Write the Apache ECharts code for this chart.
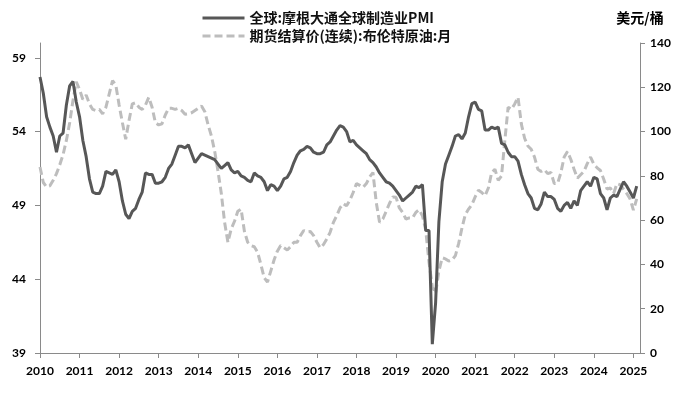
<!DOCTYPE html>
<html>
<head>
<meta charset="utf-8">
<script src="https://cdn.jsdelivr.net/npm/echarts@6/dist/echarts.min.js"></script>
<style>
html,body{margin:0;padding:0;background:#fff;}
#chart{width:693px;height:393px;}
</style>
</head>
<body>
<div id="chart"></div>
<script>
// Series names
var seriesNames = ['全球:摩根大通全球制造业PMI', '期货结算价(连续):布伦特原油:月'];
// X tick labels (one per 12 monthly points)
var yearLabels = ['2010','2011','2012','2013','2014','2015','2016','2017','2018','2019','2020','2021','2022','2023','2024','2025'];
// Axis tick values
var leftTicks = [39, 44, 49, 54, 59];
var rightTicks = [0, 20, 40, 60, 80, 100, 120, 140];

// JPMorgan Global Manufacturing PMI, monthly
var pmi = [
 57.7, 56.6, 55.0, 54.3, 53.7, 52.6, 53.7, 53.9, 55.8, 57.1, 57.4, 56.0,
 55.0, 53.4, 52.3, 50.8, 49.9, 49.8, 49.8, 50.3, 51.3, 51.2, 51.1, 51.4,
 50.6, 49.3, 48.4, 48.1, 48.6, 48.8, 49.4, 49.9, 51.2, 51.1, 51.1, 50.5,
 50.5, 50.6, 50.9, 51.5, 51.8, 52.4, 53.0, 53.0, 52.9, 53.1, 52.5, 51.9,
 52.2, 52.5, 52.4, 52.3, 52.2, 52.1, 51.8, 51.5, 51.7, 51.9, 51.4, 51.2,
 51.3, 51.0, 50.9, 50.7, 50.6, 51.2, 51.0, 50.9, 50.6, 50.0, 50.4, 50.3,
 50.0, 50.3, 50.8, 50.9, 51.3, 51.9, 52.4, 52.7, 52.8, 53.0, 52.9, 52.6,
 52.5, 52.5, 52.6, 53.1, 53.3, 53.7, 54.1, 54.4, 54.3, 54.0, 53.3, 53.4,
 53.1, 52.9, 52.7, 52.5, 52.1, 51.9, 51.6, 51.2, 50.9, 50.6, 50.5, 50.3,
 50.0, 49.7, 49.3, 49.5, 49.7, 49.9, 50.3, 50.2, 50.4, 47.3, 47.3, 39.6,
 42.4, 47.9, 50.6, 51.8, 52.4, 53.0, 53.7, 53.8, 53.5, 53.9, 55.0, 55.9,
 56.0, 55.5, 55.4, 54.1, 54.1, 54.3, 54.2, 54.3, 53.2, 53.1, 52.6, 52.3,
 52.3, 52.0, 51.1, 50.4, 49.8, 49.5, 48.8, 48.7, 49.1, 49.9, 49.6, 49.6,
 49.4, 48.8, 48.6, 49.0, 49.2, 48.8, 49.3, 49.0, 50.0, 50.3, 50.6, 50.3,
 50.9, 50.8, 49.8, 49.5, 48.7, 49.5, 49.7, 49.6, 50.1, 50.6, 50.3, 49.9,
 49.5, 50.3
];

// Brent crude continuous futures settlement, monthly (USD/bbl)
var brent = [
 84, 77, 75, 75.5, 78, 81, 85, 89.6, 96, 104, 114, 122.5,
 119, 114.5, 116.5, 112.5, 110, 109.5, 110, 108, 111, 117, 123, 121,
 112, 104, 96.5, 105, 112.5, 113, 111, 110, 112, 115.5, 111, 104,
 103, 103.5, 107.5, 110.5, 110.5, 110, 110.5, 109.5, 107.8, 108, 108.5, 109.5,
 110.5, 111.5, 109, 103, 98, 91, 82, 72, 59, 50, 56, 59.5,
 64, 65, 55, 50, 48.5, 48, 45.5, 40, 34, 32, 37, 42,
 46, 48.5, 47.5, 46.5, 48, 50, 50, 53, 55.3, 54.7, 54.9, 53,
 50, 47.5, 49, 51.5, 54.5, 59, 62, 65.5, 67.5, 66.5, 69, 72.5,
 76.5, 75.7, 74.8, 76.5, 79.5, 81.5, 68, 59, 60.5, 64, 67.5, 70.5,
 70.3, 65.5, 63.5, 60.5, 61, 61, 63.5, 64.7, 62, 55.5, 41, 30,
 27, 37, 43, 42.5, 41.5, 42, 44, 49.5, 56.5, 62.5, 65, 67,
 70.5, 73.5, 72.5, 71, 74.5, 81.5, 83, 78, 80, 96, 111, 110,
 112.5, 115.5, 103.5, 97, 93.5, 92, 88.5, 83, 82, 82.8, 81, 81.5,
 76.5, 76.5, 81.5, 88.5, 91, 87.5, 83, 79, 80.5, 82, 85.5, 88.5,
 85.3, 83.6, 82.4, 78.5, 74, 74.5, 72, 76.5, 76, 74, 72, 69.6,
 64.5, 69.6
];

var chart = echarts.init(document.getElementById('chart'), null, {renderer: 'canvas'});

var labelFont = {color: '#000', fontSize: 12, fontWeight: 'bold', fontFamily: 'Lato, "Liberation Sans", sans-serif'};
var axisLineStyle = {lineStyle: {color: '#8a8a8a', width: 1}};

function toPairs(arr) { return arr.map(function (v, i) { return [i, v]; }); }

var option = {
  animation: false,
  backgroundColor: '#fff',
  legend: {
    orient: 'vertical',
    left: 196,
    top: 6,
    itemWidth: 42,
    itemHeight: 14,
    itemGap: 4,
    itemStyle: {opacity: 0, borderWidth: 0},
    lineStyle: {width: 3},
    textStyle: {color: '#111', fontSize: 14, fontWeight: 'bold', fontFamily: '"Noto Sans CJK SC", sans-serif'},
    data: seriesNames
  },
  grid: {left: 40, right: 53, top: 43, bottom: 40, containLabel: false},
  xAxis: {
    type: 'value',
    min: 0,
    max: 182,
    interval: 12,
    splitLine: {show: false},
    axisLine: axisLineStyle,
    axisTick: {show: true, length: 5, lineStyle: {color: '#8a8a8a'}},
    axisLabel: Object.assign({
      margin: 12,
      showMaxLabel: false,
      formatter: function (v) {
        var k = Math.round(v / 12);
        return (v % 12 === 0 && yearLabels[k]) ? yearLabels[k] : '';
      }
    }, labelFont)
  },
  yAxis: [
    {
      type: 'value',
      min: leftTicks[0],
      max: 60,
      interval: leftTicks[1] - leftTicks[0],
      position: 'left',
      splitLine: {show: false},
      axisLine: Object.assign({show: true}, axisLineStyle),
      axisTick: {show: true, length: 5, lineStyle: {color: '#8a8a8a'}},
      axisLabel: Object.assign({margin: 14, showMaxLabel: false}, labelFont)
    },
    {
      type: 'value',
      min: rightTicks[0],
      max: rightTicks[rightTicks.length - 1],
      interval: rightTicks[1] - rightTicks[0],
      position: 'right',
      name: '美元/桶',
      nameLocation: 'end',
      nameGap: 18,
      nameTextStyle: {color: '#000', fontSize: 14, fontWeight: 'bold', fontFamily: '"Noto Sans CJK SC", sans-serif', align: 'center'},
      splitLine: {show: false},
      axisLine: Object.assign({show: true}, axisLineStyle),
      axisTick: {show: true, length: 5, lineStyle: {color: '#8a8a8a'}},
      axisLabel: Object.assign({margin: 10}, labelFont)
    }
  ],
  series: [
    {
      name: seriesNames[1],
      type: 'line',
      yAxisIndex: 1,
      data: toPairs(brent),
      symbol: 'none',
      z: 2,
      lineStyle: {color: '#bdbdbd', width: 3, type: [8, 4]},
      itemStyle: {color: '#bdbdbd'}
    },
    {
      name: seriesNames[0],
      type: 'line',
      yAxisIndex: 0,
      data: toPairs(pmi),
      symbol: 'none',
      z: 3,
      lineStyle: {color: '#575757', width: 3},
      itemStyle: {color: '#575757'}
    }
  ]
};
chart.setOption(option);
</script>
</body>
</html>
